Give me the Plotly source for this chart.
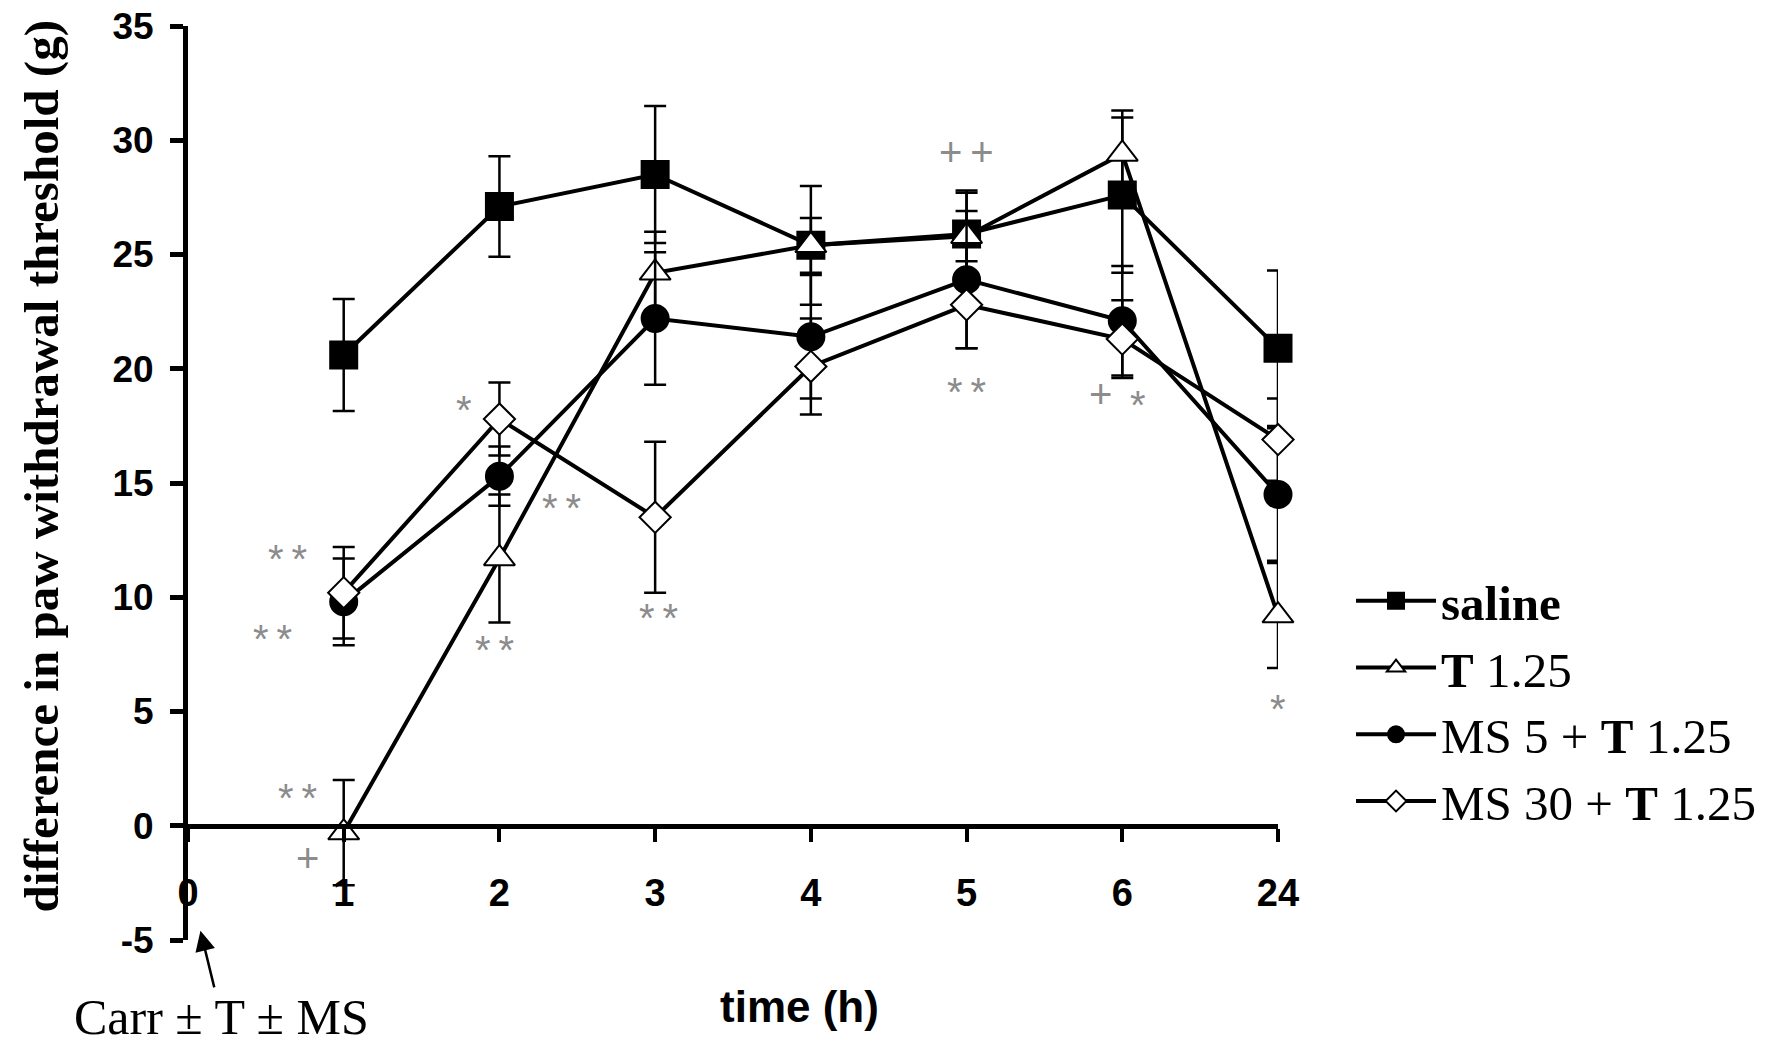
import plotly.graph_objects as go

# time points (h) and their slots on the x axis
hours = ['0', '1', '2', '3', '4', '5', '6', '24']
slots = [1, 2, 3, 4, 5, 6, 7]
y_ticks = [-5, 0, 5, 10, 15, 20, 25, 30, 35]
y_labels = ['-5', '0', '5', '10', '15', '20', '25', '30', '35']

# mean difference in paw withdrawal threshold (g) and SEM
saline = [20.6, 27.1, 28.5, 25.4, 25.9, 27.6, 20.9]
saline_err = [2.45, 2.2, 3.0, 2.6, 1.9, 3.4, 3.4]
t125 = [-0.3, 11.7, 24.2, 25.4, 25.8, 29.4, 9.2]
t125_err = [2.3, 2.8, 1.8, 1.2, 1.9, 1.9, 2.3]
ms5 = [9.8, 15.3, 22.2, 21.4, 23.9, 22.1, 14.5]
ms5_err = [1.9, 1.3, 2.9, 2.7, 3.0, 2.4, 2.9]
ms30 = [10.2, 17.8, 13.5, 20.1, 22.8, 21.3, 16.9]
ms30_err = [2.0, 1.6, 3.3, 2.1, 1.9, 1.7, 1.8]

# significance marks
sig_x = [0.64, 0.54, 0.70, 0.77, 1.97, 1.77, 2.40, 3.02, 5.0, 5.0, 5.86, 6.1, 7.0]
sig_y = [12.0, 8.5, 1.5, -1.1, 8.0, 18.5, 14.2, 9.4, 29.8, 19.3, 19.2, 18.7, 5.4]
sig_txt = ['*\u2009*', '*\u2009*', '*\u2009*', '+', '*\u2009*', '*', '*\u2009*', '*\u2009*',
           '+\u2009+', '*\u2009*', '+', '*', '*']

series = [
    ('<b>saline</b>', saline, saline_err, 'square', 'black', 27),
    ('<b>T</b> 1.25', t125, t125_err, 'triangle-up', 'white', 27),
    ('MS 5 + <b>T</b> 1.25', ms5, ms5_err, 'circle', 'black', 27),
    ('MS 30 + <b>T</b> 1.25', ms30, ms30_err, 'diamond', 'white', 24),
]

fig = go.Figure()
for name, vals, err, sym, fill, size in series:
    fig.add_trace(go.Scatter(
        x=slots, y=vals, name=name, mode='lines+markers',
        line=dict(color='black', width=4),
        marker=dict(symbol=sym, size=size, color=fill,
                    line=dict(color='black', width=2)),
        error_y=dict(type='data', array=err, color='black',
                     thickness=2.5, width=11),
        cliponaxis=False,
    ))

for x, y, t in zip(sig_x, sig_y, sig_txt):
    fig.add_annotation(x=x, y=y, text=t, showarrow=False, yshift=-7,
                       font=dict(family='Liberation Sans', size=40, color='#8c8c8c'))

# y axis title (placed by hand so it can sit a little above centre)
fig.add_annotation(x=-0.134, y=0.518, xref='paper', yref='paper', textangle=-90,
                   xanchor='center', yanchor='middle',
                   text='<b>difference in paw withdrawal threshold (g)</b>',
                   showarrow=False,
                   font=dict(family='Liberation Serif', size=49, color='black'))

fig.add_annotation(x=3.93, y=-0.073, xref='x', yref='paper', text='<b>time (h)</b>',
                   showarrow=False, yanchor='middle',
                   font=dict(family='Liberation Sans', size=44, color='black'))

fig.add_annotation(x=0.08, y=0.01, xref='x', yref='paper', text='Carr ± T ± MS',
                   showarrow=True, ax=21, ay=86, arrowhead=2, arrowsize=1.6,
                   arrowwidth=2.5, arrowcolor='black',
                   font=dict(family='Liberation Serif', size=50, color='black'))

fig.update_xaxes(
    range=[0, 7], tickvals=list(range(8)), ticktext=hours,
    showgrid=False, zeroline=False, showline=True, linecolor='black', linewidth=5,
    ticks='outside', ticklen=13, tickwidth=4, tickcolor='black',
    anchor='free', position=0.125, ticklabelstandoff=19, automargin=False,
    ticklabeloverflow='allow',
    tickfont=dict(family='Liberation Sans', size=38, color='black', weight='bold'),
)
fig.update_yaxes(
    range=[-5, 35], tickvals=y_ticks, ticktext=y_labels,
    showgrid=False, zeroline=False, showline=True, linecolor='black', linewidth=5,
    ticks='outside', ticklen=13, tickwidth=5, tickcolor='black',
    ticklabelstandoff=9, automargin=False, ticklabeloverflow='allow',
    tickfont=dict(family='Liberation Sans', size=37, color='black', weight='bold'),
)

# the page adds a small offset, so the margins are trimmed a little
fig.update_layout(
    width=1765, height=1045,
    margin=dict(l=180, r=488, t=18, b=113),
    plot_bgcolor='white', paper_bgcolor='white',
    legend=dict(x=1.067, y=0.413, xanchor='left', yanchor='top',
                font=dict(family='Liberation Serif', size=49, color='black'),
                bgcolor='rgba(0,0,0,0)', itemwidth=80, tracegroupgap=0),
)

fig.write_html("out.html")
